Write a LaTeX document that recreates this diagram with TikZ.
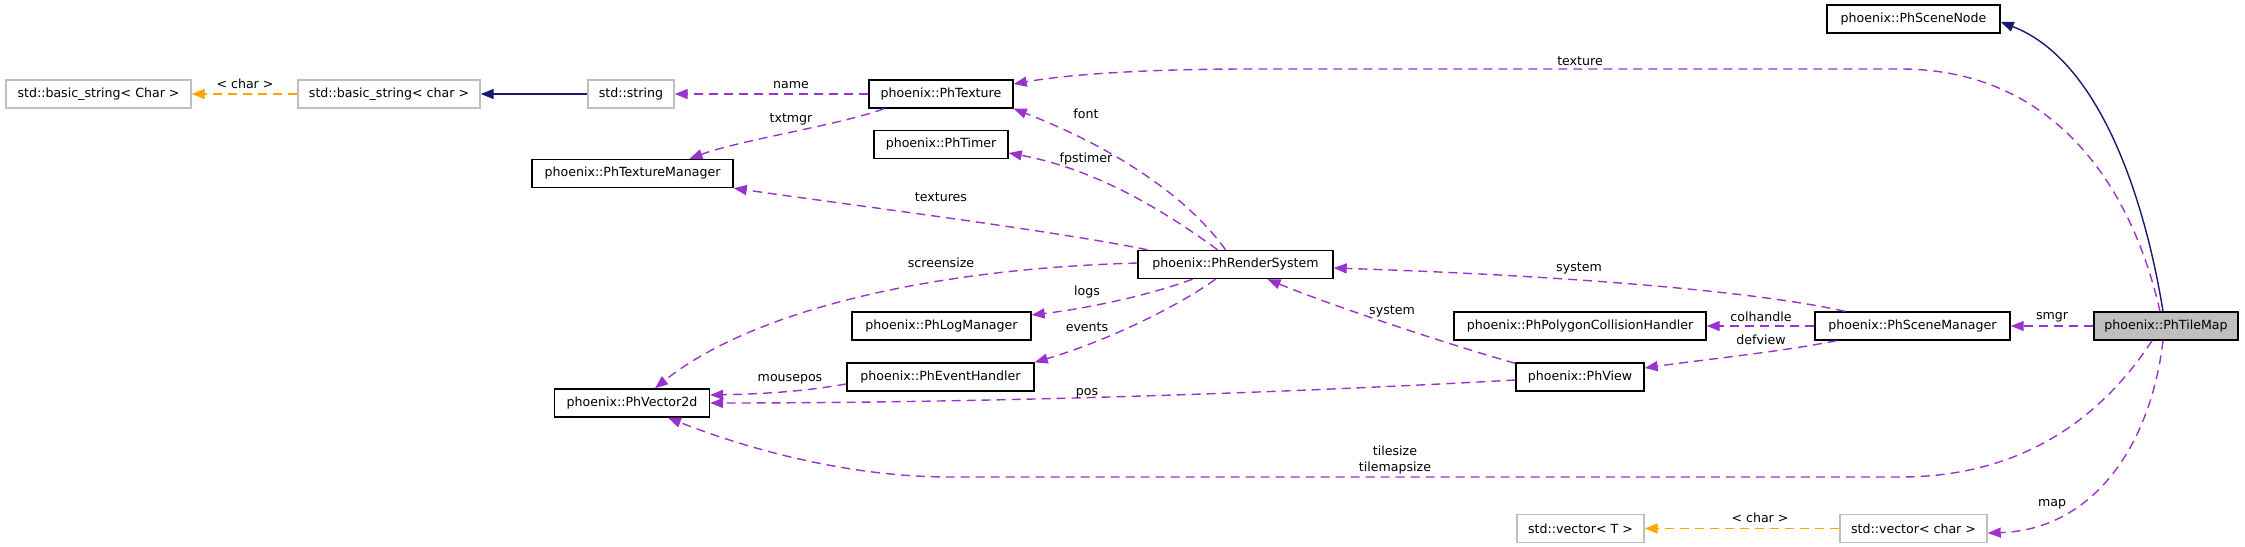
\documentclass[tikz,border=0pt]{standalone}
\usepackage{fontspec}
\setmainfont{DejaVu Sans}
\usetikzlibrary{arrows.meta}
\definecolor{edgepurple}{HTML}{9A32CD}
\definecolor{navyedge}{HTML}{191970}
\definecolor{orangeedge}{HTML}{FFA500}
\definecolor{boxgray}{HTML}{BFBFBF}
\begin{document}
\begin{tikzpicture}[x=1pt,y=-1pt,
  font=\fontsize{12.6}{16}\selectfont,
  cls/.style={draw=black, line width=1.4pt, fill=white, minimum height=28pt, inner sep=0pt, text=black},
  ext/.style={cls, draw=boxgray},
  cur/.style={cls, fill=boxgray},
  tip/.style={-{Triangle[length=13pt,width=10pt]}},
  usage/.style={draw=edgepurple, line width=1.4pt, dash pattern=on 9pt off 6pt, tip},
  inh/.style={draw=navyedge, line width=1.4pt, tip},
  tmpl/.style={draw=orangeedge, line width=1.4pt, dash pattern=on 9pt off 6pt, tip},
  lbl/.style={inner sep=0pt, text=black, align=center}]
\useasboundingbox (0,0) rectangle (2245,546);

% nodes
\node[cls, minimum width=173pt] (scenenode) at (1913.5,19) {phoenix::PhSceneNode};
\node[ext, minimum width=185pt] (bsC) at (98.5,94) {std::basic\_string< Char >};
\node[ext, minimum width=182pt] (bsc) at (389,94) {std::basic\_string< char >};
\node[ext, minimum width=86pt] (string) at (631,94) {std::string};
\node[cls, minimum width=144pt] (texture) at (941,94) {phoenix::PhTexture};
\node[cls, minimum width=134pt] (timer) at (941,144.5) {phoenix::PhTimer};
\node[cls, minimum width=201pt] (texmgr) at (632.5,173.5) {phoenix::PhTextureManager};
\node[cls, minimum width=195pt] (render) at (1235.5,264.5) {phoenix::PhRenderSystem};
\node[cls, minimum width=179pt] (logmgr) at (941.5,326) {phoenix::PhLogManager};
\node[cls, minimum width=252pt] (poly) at (1580,326) {phoenix::PhPolygonCollisionHandler};
\node[cls, minimum width=195pt] (scenemgr) at (1912.5,326) {phoenix::PhSceneManager};
\node[cur, minimum width=144pt] (tilemap) at (2166,326) {phoenix::PhTileMap};
\node[cls, minimum width=187pt] (events) at (940.5,377) {phoenix::PhEventHandler};
\node[cls, minimum width=155pt] (vec2d) at (632,403) {phoenix::PhVector2d};
\node[cls, minimum width=128pt] (view) at (1580,377) {phoenix::PhView};
\node[ext, minimum width=127pt] (vecT) at (1580.5,528.5) {std::vector< T >};
\node[ext, minimum width=147pt] (vecc) at (1913.5,528.5) {std::vector< char >};

% edges
\draw[inh] ([xshift=-3pt]tilemap.north) .. controls (2145,200) and (2100,60) .. ([yshift=-3pt]scenenode.east);
\draw[usage] ([xshift=-6pt]tilemap.north) .. controls (2130,180) and (2050,69) .. (1900,69) -- (1250,69) .. controls (1150,69) and (1070,74) .. ([yshift=10pt]texture.east);
\draw[usage] (tilemap) -- (scenemgr);
\draw[usage] ([xshift=-14pt]tilemap.south) .. controls (2100,420) and (2020,477) .. (1900,477) -- (950,477) .. controls (850,477) and (750,450) .. ([xshift=36pt]vec2d.south);
\draw[usage] ([xshift=-3pt]tilemap.south) .. controls (2150,450) and (2090,530) .. ([yshift=-4.5pt]vecc.east);
\draw[usage] ([xshift=-67.5pt]scenemgr.north) .. controls (1750,290) and (1550,275) .. ([yshift=-3.5pt]render.east);
\draw[usage] (scenemgr) -- (poly);
\draw[usage] ([xshift=-76pt]scenemgr.south) .. controls (1780,352) and (1700,360) .. ([yshift=9pt]view.east);
\draw[usage] ([yshift=-1pt]view.north west) .. controls (1450,345) and (1330,305) .. ([xshift=32pt]render.south);
\draw[usage] ([yshift=-3pt]view.west) .. controls (1300,392) and (1000,403) .. (vec2d.east);
\draw[usage] ([xshift=-10pt]render.north) .. controls (1190,200) and (1120,150) .. (texture.south east);
\draw[usage] ([xshift=-18pt]render.north) .. controls (1170,215) and (1100,170) .. ([yshift=-8.5pt]timer.east);
\draw[usage] ([xshift=-88pt]render.north) .. controls (1050,230) and (850,205) .. (texmgr.south east);
\draw[usage] ([yshift=1.5pt]render.west) .. controls (900,270) and (740,320) .. ([xshift=23pt]vec2d.north);
\draw[usage] ([xshift=-43pt]render.south) .. controls (1150,295) and (1090,308) .. ([yshift=11pt]logmgr.east);
\draw[usage] ([xshift=-20pt]render.south) .. controls (1180,305) and (1110,340) .. (events.north east);
\draw[usage] ([yshift=-7pt]events.west) .. controls (800,392) and (760,394) .. ([yshift=8pt]vec2d.east);
\draw[usage] (texture) -- (string);
\draw[usage] ([xshift=-57pt]texture.south) .. controls (840,125) and (740,140) .. ([xshift=57pt]texmgr.north);
\draw[inh] (string) -- (bsc);
\draw[tmpl] (bsc) -- (bsC);
\draw[tmpl] (vecc) -- (vecT);

% labels
\node[lbl] (lchar1) at (245,84) {< char >};
\node[lbl] (lname) at (791,85) {name};
\node[lbl] (ltxtmgr) at (791,119) {txtmgr};
\node[lbl] (ltexture) at (1580,61) {texture};
\node[lbl] (lfont) at (1086,114) {font};
\node[lbl] (lfps) at (1086,159) {fpstimer};
\node[lbl] (ltextures) at (941,197) {textures};
\node[lbl] (lscreen) at (941,263) {screensize};
\node[lbl] (llogs) at (1087,292) {logs};
\node[lbl] (levents) at (1087,327) {events};
\node[lbl] (lmouse) at (790,379) {mousepos};
\node[lbl] (lpos) at (1087,393) {pos};
\node[lbl] (lsys1) at (1579,268) {system};
\node[lbl] (lsys2) at (1392,311) {system};
\node[lbl] (lcol) at (1761,317) {colhandle};
\node[lbl] (ldef) at (1761,340) {defview};
\node[lbl] (lsmgr) at (2052,317) {smgr};
\node[lbl] (ltile) at (1395,460) {tilesize\\tilemapsize};
\node[lbl] (lchar2) at (1760,518) {< char >};
\node[lbl] (lmap) at (2052,504) {map};
\end{tikzpicture}
\end{document}
